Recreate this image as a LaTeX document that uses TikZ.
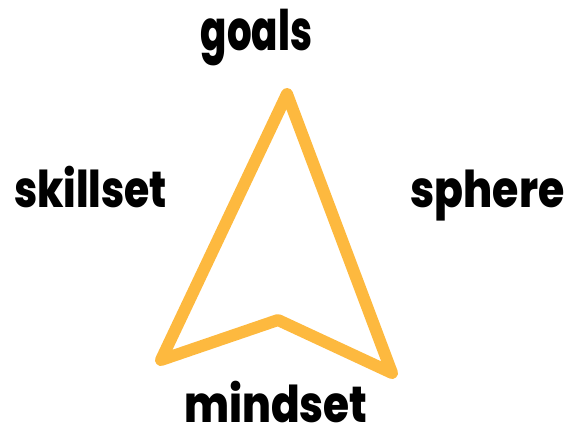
\documentclass[tikz,border=0pt]{standalone}
\usepackage{fontspec}
\setmainfont{Poppins}[BoldFont={Poppins ExtraBold}]
\usetikzlibrary{positioning}
\definecolor{arrowgold}{HTML}{FDB93F}
\newcommand{\tallword}[3]{\scalebox{#1}[#2]{#3}}
\tikzset{
  word/.style={font=\fontsize{43}{50}\selectfont\bfseries,inner sep=0pt,anchor=base},
}
\begin{document}
\begin{tikzpicture}[x=1pt,y=-1pt]
\useasboundingbox (0,0) rectangle (570,428);
% the pointer
\coordinate (tip) at (287,94);
\coordinate (left) at (161,360);
\coordinate (notch) at (278,320);
\coordinate (right) at (392,373);
\draw[arrowgold,line width=12pt,line join=round,line cap=round]
  (tip) -- (left) -- (notch) -- (right) -- cycle;
% the four words
\node[word] (goals) at (256.5,51) {\tallword{0.9}{1.3}{goals}};
\node[word] (skillset) at (90.5,207) {\tallword{0.95}{1.18}{skillset}};
\node[word] (sphere) at (487.5,207) {\tallword{0.99}{1.18}{sphere}};
\node[word] (mindset) at (276,422) {\tallword{0.98}{1.18}{mindset}};
\end{tikzpicture}
\end{document}
